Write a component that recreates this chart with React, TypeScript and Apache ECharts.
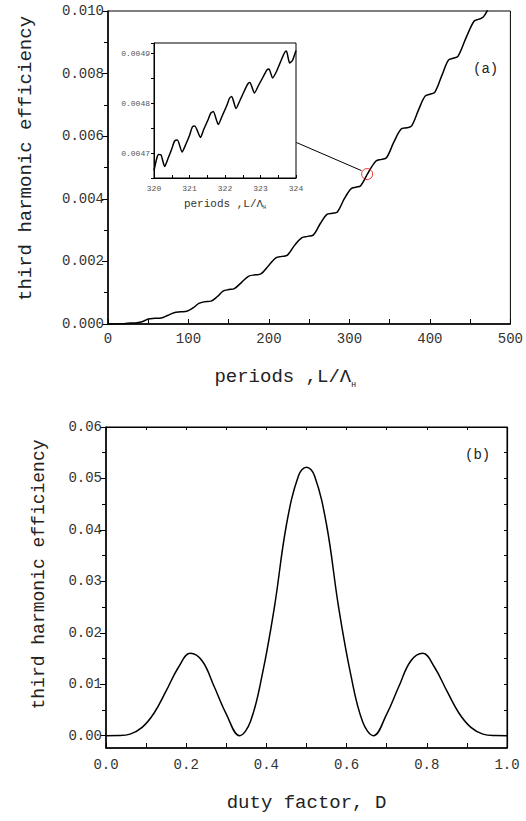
import React, { useEffect, useRef } from "react";
import * as echarts from "echarts";

// ---- Panel (a): main curve ----
const mainPeriods = [0, 10, 20, 28, 36, 44, 50, 58, 66, 74, 82, 90, 98, 106, 113, 120, 128, 136, 143, 150, 157, 166, 175, 183, 190, 200, 209, 216, 223, 232, 241, 248, 255, 264, 272, 279, 285, 294, 302, 308, 314, 323, 333, 340, 346, 355, 364, 371, 377, 386, 394, 400, 406, 415, 423, 429, 435, 445, 455, 461, 466, 471, 476];
const mainEfficiency = [0, 0.000003, 0.00001, 0.00003, 0.00004, 0.00009, 0.00016, 0.00018, 0.00019, 0.00027, 0.00036, 0.00039, 0.00041, 0.00052, 0.00066, 0.00071, 0.00073, 0.00088, 0.00105, 0.0011, 0.00113, 0.00133, 0.00153, 0.00157, 0.0016, 0.00188, 0.00212, 0.00216, 0.0022, 0.00252, 0.00276, 0.0028, 0.00284, 0.00322, 0.0035, 0.00354, 0.00358, 0.00402, 0.00432, 0.00437, 0.00442, 0.00482, 0.00521, 0.00526, 0.00531, 0.0058, 0.00622, 0.00627, 0.00632, 0.00685, 0.00728, 0.00734, 0.0074, 0.00795, 0.00843, 0.00849, 0.00856, 0.00915, 0.00968, 0.00974, 0.0098, 0.01, 0.0103];

// zoom marker + connector to inset
const highlightPeriod = [322];
const highlightEfficiency = [0.00479];
const connectorPeriods = [234, 315];
const connectorEfficiency = [0.0058, 0.0049];

// ---- Panel (a): inset ----
const insetPeriods = [320.0, 320.08, 320.13, 320.2, 320.3, 320.4, 320.5, 320.58, 320.66, 320.79, 320.9, 321.0, 321.08, 321.15, 321.31, 321.4, 321.52, 321.6, 321.67, 321.81, 321.92, 322.05, 322.13, 322.19, 322.31, 322.42, 322.55, 322.64, 322.7, 322.83, 322.95, 323.08, 323.18, 323.24, 323.34, 323.45, 323.58, 323.68, 323.73, 323.82, 323.9, 324.0];
const insetEfficiency = [0.004665, 0.00469, 0.004697, 0.004696, 0.004673, 0.00469, 0.004708, 0.004724, 0.004726, 0.004702, 0.004718, 0.004735, 0.004752, 0.004754, 0.004731, 0.004747, 0.004766, 0.00478, 0.004783, 0.004757, 0.004774, 0.004795, 0.00481, 0.004813, 0.004789, 0.004805, 0.004825, 0.004838, 0.004841, 0.00482, 0.004836, 0.004853, 0.004866, 0.004868, 0.00485, 0.004863, 0.004885, 0.004901, 0.004904, 0.00488, 0.004885, 0.004905];

// ---- Panel (b) ----
const dutyFactor = [0, 0.03, 0.06, 0.09, 0.12, 0.15, 0.18, 0.21, 0.24, 0.27, 0.3, 0.333, 0.36, 0.39, 0.42, 0.45, 0.48, 0.5, 0.52, 0.55, 0.58, 0.61, 0.64, 0.667, 0.7, 0.73, 0.76, 0.79, 0.82, 0.85, 0.88, 0.91, 0.94, 0.97, 1.0];
const dutyEfficiency = [0, 0.00003, 0.0003, 0.0016, 0.0044, 0.0087, 0.0132, 0.016, 0.0145, 0.0095, 0.0042, 0, 0.0027, 0.012, 0.025, 0.041, 0.0505, 0.0522, 0.0505, 0.041, 0.025, 0.012, 0.0027, 0, 0.0042, 0.0095, 0.0145, 0.016, 0.0132, 0.0087, 0.0044, 0.0016, 0.0003, 0.00003, 0];

// tick values
const mainYMinorTicks = [0.001, 0.003, 0.005, 0.007, 0.009];
const bottomYLabels = [0, 0.01, 0.02, 0.03, 0.04, 0.05, 0.06];
const bottomYMinorTicks = [0.005, 0.015, 0.025, 0.035, 0.045, 0.055];
const bottomYRightTicks = [0, 0.005, 0.01, 0.015, 0.02, 0.025, 0.03, 0.035, 0.04, 0.045, 0.05, 0.055, 0.06];

const FONT = "'Liberation Mono', 'DejaVu Sans Mono', monospace";
const TITLE_FONT = "'Liberation Mono', 'DejaVu Sans Mono', monospace";

const zip = (a: number[], b: number[]) => a.map((v, i) => [v, b[i]]);

export default function App() {
  const ref = useRef<HTMLDivElement>(null);
  useEffect(() => {
    document.body.style.margin = "0";
    if (!ref.current) return;
    const chart = echarts.init(ref.current, undefined, { renderer: "svg" });
    const black = "#000";
    const labelStyle = { fontFamily: FONT, fontSize: 14, color: "#333" };
    const titleStyle = { fontFamily: TITLE_FONT, fontSize: 18, color: "#222" };

    const option: any = {
      animation: false,
      backgroundColor: "#fff",
      grid: [
        { left: 108, top: 11, width: 403, height: 313, show: true, borderColor: black, borderWidth: 1, backgroundColor: "transparent" },
        { left: 154, top: 43, width: 142, height: 135, show: true, borderColor: black, borderWidth: 1, backgroundColor: "#fff" },
        { left: 106, top: 427, width: 401, height: 321, show: true, borderColor: black, borderWidth: 1, backgroundColor: "transparent" },
      ],
      xAxis: [
        {
          gridIndex: 0, type: "value", min: 0, max: 500, interval: 100,
          axisLine: { show: true, onZero: false, lineStyle: { color: black, width: 1.5 } },
          axisTick: { show: true, inside: true, length: 5, lineStyle: { color: black } },
          minorTick: { show: true, splitNumber: 2, length: 5, lineStyle: { color: black } },
          splitLine: { show: false },
          axisLabel: { ...labelStyle, margin: 8 },
          name: "periods ,L/Λ{s|H}",
          nameLocation: "middle", nameGap: 42,
          nameTextStyle: {
            ...titleStyle, fontSize: 19, padding: [0, 48, 0, 0],
            rich: { s: { fontFamily: TITLE_FONT, fontSize: 8, color: "#222", padding: [14, 0, 0, 0] } },
          },
        },
        {
          gridIndex: 1, type: "value", min: 320, max: 324, interval: 1,
          axisLine: { show: true, onZero: false, lineStyle: { color: black, width: 1 } },
          axisTick: { show: true, inside: true, length: 3, lineStyle: { color: black } },
          minorTick: { show: true, splitNumber: 2, length: 3, lineStyle: { color: black } },
          splitLine: { show: false },
          axisLabel: { fontFamily: FONT, fontSize: 8, color: "#555", margin: 6 },
          name: "periods ,L/Λ{s|H}",
          nameLocation: "middle", nameGap: 19,
          nameTextStyle: {
            fontFamily: TITLE_FONT, fontSize: 11, color: "#333",
            rich: { s: { fontFamily: TITLE_FONT, fontSize: 5, color: "#333", padding: [8, 0, 0, 0] } },
          },
        },
        {
          gridIndex: 2, type: "value", min: 0, max: 1, interval: 0.2,
          axisLine: { show: true, onZero: false, lineStyle: { color: black, width: 1.5 } },
          axisTick: { show: true, inside: true, length: 5, lineStyle: { color: black } },
          minorTick: { show: true, splitNumber: 2, length: 5, lineStyle: { color: black } },
          splitLine: { show: false },
          axisLabel: { ...labelStyle, margin: 10, formatter: (v: number) => v.toFixed(1) },
          name: "duty factor, D",
          nameLocation: "middle", nameGap: 45,
          nameTextStyle: { ...titleStyle, fontSize: 19 },
        },
        {
          gridIndex: 2, type: "value", min: 0, max: 1, interval: 0.1, position: "top",
          axisLine: { show: true, onZero: false, lineStyle: { color: black, width: 1 } },
          axisTick: { show: true, inside: true, length: 3, lineStyle: { color: black } },
          splitLine: { show: false },
          axisLabel: { show: false },
        },
      ],
      yAxis: [
        {
          gridIndex: 0, type: "value", min: 0, max: 0.01, interval: 0.002,
          axisLine: { show: true, onZero: false, lineStyle: { color: black, width: 1.5 } },
          axisTick: { show: true, inside: false, length: 6, lineStyle: { color: black } },
          splitLine: { show: false },
          axisLabel: { ...labelStyle, margin: 4, formatter: (v: number) => v.toFixed(3) },
          name: "third harmonic efficiency",
          nameLocation: "middle", nameGap: 73,
          nameTextStyle: { ...titleStyle, fontSize: 19, padding: [0, 0, 0, 18] },
        },
        {
          gridIndex: 0, type: "value", min: 0, max: 0.01,
          axisLine: { show: false },
          axisTick: { show: true, inside: true, length: 4, customValues: mainYMinorTicks, lineStyle: { color: black } },
          splitLine: { show: false },
          axisLabel: { show: false },
        },
        {
          gridIndex: 1, type: "value", min: 0.00465, max: 0.00492, interval: 0.00005,
          axisLine: { show: true, onZero: false, lineStyle: { color: black, width: 1 } },
          axisTick: { show: true, inside: false, length: 3, lineStyle: { color: black } },
          splitLine: { show: false },
          axisLabel: {
            fontFamily: FONT, fontSize: 8, color: "#555", margin: 4,
            formatter: (v: number) => (Math.abs(v * 1e4 - Math.round(v * 1e4)) < 1e-6 ? v.toFixed(4) : ""),
          },
        },
        {
          gridIndex: 2, type: "value", min: -0.0024, max: 0.06,
          axisLine: { show: true, onZero: false, lineStyle: { color: black, width: 1.5 } },
          axisTick: { show: true, inside: false, length: 6, customValues: bottomYLabels, lineStyle: { color: black } },
          splitLine: { show: false },
          axisLabel: { ...labelStyle, margin: 4, customValues: bottomYLabels, formatter: (v: number) => v.toFixed(2) },
          name: "third harmonic efficiency",
          nameLocation: "middle", nameGap: 58,
          nameTextStyle: { ...titleStyle, padding: [0, 0, 0, 26] },
        },
        {
          gridIndex: 2, type: "value", min: -0.0024, max: 0.06,
          axisLine: { show: false },
          axisTick: { show: true, inside: true, length: 4, customValues: bottomYMinorTicks, lineStyle: { color: black } },
          splitLine: { show: false },
          axisLabel: { show: false },
        },
        {
          gridIndex: 2, type: "value", min: -0.0024, max: 0.06, position: "right",
          axisLine: { show: true, onZero: false, lineStyle: { color: black, width: 1.2 } },
          axisTick: { show: true, inside: true, length: 3, customValues: bottomYRightTicks, lineStyle: { color: black } },
          splitLine: { show: false },
          axisLabel: { show: false },
        },
      ],
      series: [
        {
          type: "line", xAxisIndex: 0, yAxisIndex: 0, data: zip(mainPeriods, mainEfficiency),
          smooth: 0.35, showSymbol: false, clip: true, lineStyle: { color: black, width: 1.5 },
        },
        {
          type: "line", xAxisIndex: 0, yAxisIndex: 0, data: zip(connectorPeriods, connectorEfficiency),
          showSymbol: false, lineStyle: { color: black, width: 1 },
        },
        {
          type: "scatter", xAxisIndex: 0, yAxisIndex: 0, data: zip(highlightPeriod, highlightEfficiency),
          symbol: "circle", symbolSize: 11, z: 5,
          itemStyle: { color: "transparent", borderColor: "#e00", borderWidth: 1 },
        },
        {
          type: "line", xAxisIndex: 1, yAxisIndex: 2, data: zip(insetPeriods, insetEfficiency),
          smooth: 0.2, showSymbol: false, lineStyle: { color: black, width: 1.5 }, z: 4,
        },
        {
          type: "line", xAxisIndex: 2, yAxisIndex: 3, data: zip(dutyFactor, dutyEfficiency),
          smooth: 0.4, showSymbol: false, lineStyle: { color: black, width: 1.5 },
        },
      ],
      graphic: [
        { type: "text", left: 473, top: 62, style: { text: "(a)", font: "14px 'Liberation Mono', monospace", fill: "#222" } },
        { type: "text", left: 465, top: 448, style: { text: "(b)", font: "14px 'Liberation Mono', monospace", fill: "#222" } },
      ],
    };
    chart.setOption(option);
    return () => chart.dispose();
  }, []);
  return <div ref={ref} style={{ width: 526, height: 821 }} />;
}
